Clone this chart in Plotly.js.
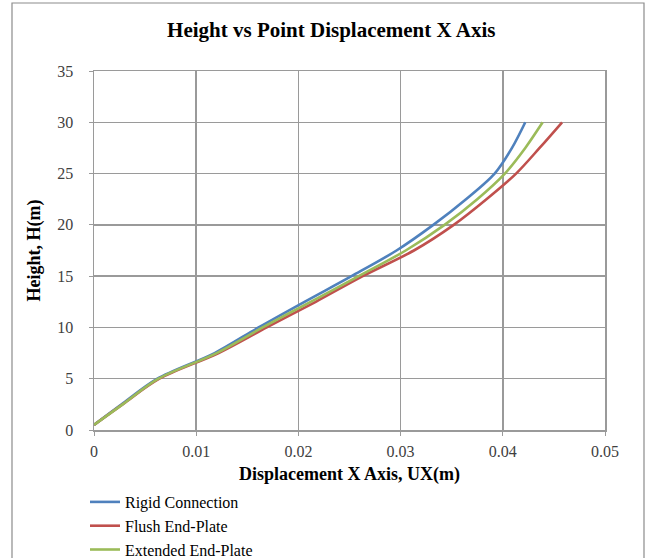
<!DOCTYPE html>
<html>
<head>
<meta charset="utf-8">
<script src="https://cdn.plot.ly/plotly-3.0.1.min.js"></script>
<style>
html,body{margin:0;padding:0;background:#fff;}
#chart{width:656px;height:558px;}
</style>
</head>
<body>
<div id="chart"></div>
<script>
// Heights (m)
const heights = [0.5, 2.5, 5, 7.5, 10, 12.5, 15, 17.5, 20, 22.5, 25, 27.5, 30];
// Displacement X (m) per series
const rigidConnection = [0, 0.0027, 0.0062, 0.0118, 0.0161, 0.0206, 0.0252, 0.0296, 0.0332, 0.0364, 0.0392, 0.0409, 0.0422];
const flushEndPlate   = [0, 0.0028, 0.0064, 0.0122, 0.0169, 0.0217, 0.0263, 0.0313, 0.0352, 0.0384, 0.0413, 0.0436, 0.0458];
const extendedEndPlate= [0, 0.0028, 0.0063, 0.0120, 0.0165, 0.0212, 0.0259, 0.0305, 0.0343, 0.0375, 0.0402, 0.0422, 0.0439];
const seriesNames = ["Rigid Connection", "Flush End-Plate", "Extended End-Plate"];
const xTicks = [0, 0.01, 0.02, 0.03, 0.04, 0.05];
const xTickText = ["0", "0.01", "0.02", "0.03", "0.04", "0.05"];
const yTicks = [0, 5, 10, 15, 20, 25, 30, 35];

const colors = ["#4F81BD", "#C0504D", "#9BBB59"];
const seriesX = [rigidConnection, flushEndPlate, extendedEndPlate];

const traces = seriesX.map((xs, i) => ({
  x: xs,
  y: heights,
  type: "scatter",
  mode: "lines",
  name: seriesNames[i],
  line: {color: colors[i], width: 2.6, shape: "spline", smoothing: 0.9}
}));

const serif = "Liberation Serif, Times New Roman, serif";
const gridCol = "#9a9a9a";
const plotW = 656 - 94 - 51;
const plotH = 558 - 71 - 128;

const layout = {
  width: 656,
  height: 558,
  margin: {l: 94, r: 51, t: 71, b: 128, autoexpand: false},
  paper_bgcolor: "#ffffff",
  plot_bgcolor: "#ffffff",
  font: {family: serif, size: 16, color: "#404040"},
  title: {
    text: "<b>Height vs Point Displacement X Axis</b>",
    font: {family: serif, size: 21, color: "#000000"},
    xref: "container", x: 0.505, xanchor: "center",
    yref: "container", y: 0.946, yanchor: "middle",
    automargin: false
  },
  xaxis: {
    range: [0, 0.05],
    tickvals: xTicks,
    ticktext: xTickText,
    showgrid: true, gridcolor: gridCol, gridwidth: 1.5,
    zeroline: false,
    showline: true, linecolor: gridCol, linewidth: 1.5, mirror: true,
    ticks: "outside", ticklen: 4, tickcolor: gridCol,
    ticklabelstandoff: 2,
    automargin: false,
    tickfont: {family: serif, size: 16, color: "#404040"},
    title: {text: "<b>Displacement X Axis, UX(m)</b>", font: {family: serif, size: 18, color: "#000000"}, standoff: 8},
    fixedrange: true
  },
  yaxis: {
    range: [0, 35],
    tickvals: yTicks,
    showgrid: true, gridcolor: gridCol, gridwidth: 1.5,
    zeroline: false,
    showline: true, linecolor: gridCol, linewidth: 1.5, mirror: true,
    ticks: "outside", ticklen: 4, tickcolor: gridCol,
    ticklabelstandoff: 12,
    automargin: false,
    tickfont: {family: serif, size: 16, color: "#404040"},
    title: {text: "<b>Height, H(m)</b>", font: {family: serif, size: 18, color: "#000000"}, standoff: 12},
    fixedrange: true
  },
  showlegend: true,
  legend: {
    x: (85 - 94) / plotW, xanchor: "left",
    y: (430 - 485) / plotH, yanchor: "top",
    orientation: "v",
    font: {family: serif, size: 16, color: "#000000"},
    bgcolor: "rgba(0,0,0,0)",
    borderwidth: 0
  },
  shapes: [{
    type: "rect", xref: "paper", yref: "paper",
    x0: (12 - 94) / plotW, x1: (644 - 94) / plotW,
    y0: (430 - 570) / plotH, y1: (430 - 3) / plotH,
    line: {color: "#8c8c8c", width: 1.2},
    fillcolor: "rgba(0,0,0,0)",
    layer: "below"
  }]
};

Plotly.newPlot("chart", traces, layout, {displayModeBar: false, staticPlot: true});
</script>
</body>
</html>
